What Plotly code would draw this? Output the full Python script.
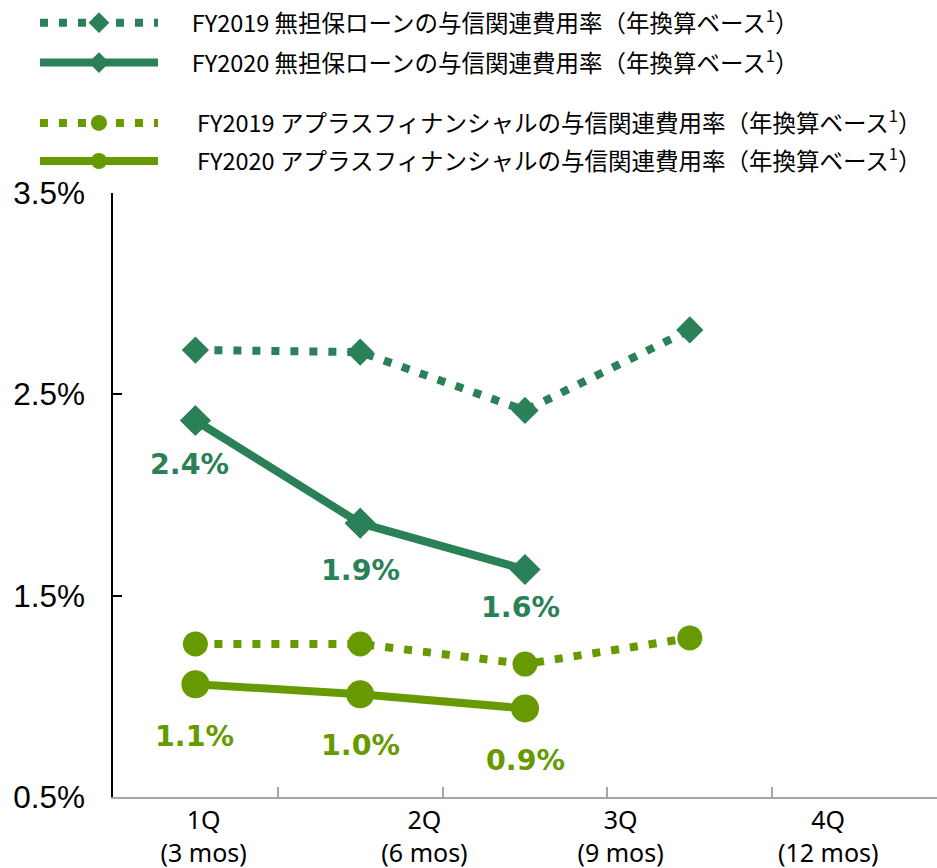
import plotly.graph_objects as go

quarters = [0, 1, 2, 3]
quarter_labels = ["1Q<br>(3 mos)", "2Q<br>(6 mos)", "3Q<br>(9 mos)", "4Q<br>(12 mos)"]
label_pos = [0.05, 1.39, 2.58, 3.84]
band_edges = [0.5, 1.5, 2.5, 3.5]

unsecured_fy2019 = [2.72, 2.71, 2.42, 2.82]
unsecured_fy2020 = [2.37, 1.86, 1.63]
aplus_fy2019 = [1.26, 1.26, 1.16, 1.29]
aplus_fy2020 = [1.06, 1.01, 0.94]
unsecured_fy2020_labels = ["2.4%", "1.9%", "1.6%"]
aplus_fy2020_labels = ["1.1%", "1.0%", "0.9%"]

y_ticks = [0.5, 1.5, 2.5, 3.5]
y_ticktext = ["0.5%", "1.5%", "2.5%", "3.5%"]

series_names = [
    "FY2019 無担保ローンの与信関連費用率（年換算ベース<sup>1</sup>）",
    "FY2020 無担保ローンの与信関連費用率（年換算ベース<sup>1</sup>）",
    "FY2019 アプラスフィナンシャルの与信関連費用率（年換算ベース<sup>1</sup>）",
    "FY2020 アプラスフィナンシャルの与信関連費用率（年換算ベース<sup>1</sup>）",
]

DARK = "#2A8057"
LIGHT = "#669A00"
pad_a = "\u3000\u00a0"
pad_b = "\u3000\u00a0\u00a0"

fig = go.Figure()
fig.add_trace(go.Scatter(
    x=quarters[:len(unsecured_fy2019)], y=unsecured_fy2019, mode="lines+markers",
    name=pad_a + series_names[0], legend="legend",
    line=dict(color=DARK, width=8, dash="8px,11px"),
    marker=dict(symbol="diamond", size=21, color=DARK)))
fig.add_trace(go.Scatter(
    x=quarters[:len(unsecured_fy2020)], y=unsecured_fy2020, mode="lines+markers",
    name=pad_a + series_names[1], legend="legend2",
    line=dict(color=DARK, width=8),
    marker=dict(symbol="diamond", size=24, color=DARK)))
fig.add_trace(go.Scatter(
    x=quarters[:len(aplus_fy2019)], y=aplus_fy2019, mode="lines+markers",
    name=pad_b + series_names[2], legend="legend3",
    line=dict(color=LIGHT, width=8, dash="8px,11px"),
    marker=dict(symbol="circle", size=25, color=LIGHT)))
fig.add_trace(go.Scatter(
    x=quarters[:len(aplus_fy2020)], y=aplus_fy2020, mode="lines+markers",
    name=pad_b + series_names[3], legend="legend4",
    line=dict(color=LIGHT, width=8),
    marker=dict(symbol="circle", size=28, color=LIGHT)))

annotations = []
for xv, yv, t, sh, xs in zip(quarters, unsecured_fy2020, unsecured_fy2020_labels, [-44, -47, -38], [-6, 0, -5]):
    annotations.append(dict(x=xv, y=yv, text=t, showarrow=False, yshift=sh, xshift=xs,
                            font=dict(family="Verdana, DejaVu Sans", size=28.5, color=DARK, weight="bold")))
for xv, yv, t, sh, xs in zip(quarters, aplus_fy2020, aplus_fy2020_labels, [-52, -51, -52], [-1, 0, 0]):
    annotations.append(dict(x=xv, y=yv, text=t, showarrow=False, yshift=sh, xshift=xs,
                            font=dict(family="Verdana, DejaVu Sans", size=28.5, color=LIGHT, weight="bold")))

legend_font = dict(family="Noto Sans CJK JP", size=23.5, color="#000000")
legend_x = -0.0947
legend_ys = [1.318, 1.252, 1.152, 1.089]
legend_common = dict(x=legend_x, xanchor="left", yanchor="top", itemwidth=118,
                     font=legend_font, bgcolor="rgba(0,0,0,0)", borderwidth=0)

fig.update_layout(
    width=937, height=868,
    margin=dict(l=113, r=0, t=193, b=71),
    paper_bgcolor="white", plot_bgcolor="white",
    showlegend=True,
    legend=dict(y=legend_ys[0], **legend_common),
    legend2=dict(y=legend_ys[1], **legend_common),
    legend3=dict(y=legend_ys[2], **legend_common),
    legend4=dict(y=legend_ys[3], **legend_common),
    annotations=annotations,
    xaxis=dict(range=[-0.5, 4.5], tickmode="array", tickvals=label_pos, ticktext=quarter_labels,
               ticks="", showgrid=False, zeroline=False, showline=True,
               linecolor="#A6A6A6", linewidth=2,
               tickfont=dict(family="Noto Sans", size=25, color="#000000"),
               minor=dict(tickmode="array", tickvals=band_edges, ticks="inside",
                          ticklen=10, tickcolor="#A6A6A6", tickwidth=1.5, showgrid=False)),
    yaxis=dict(range=[0.5, 3.5], tickmode="array", tickvals=y_ticks, ticktext=y_ticktext,
               ticks="inside", ticklen=9, tickcolor="#000000", tickwidth=1.5,
               showgrid=False, zeroline=False, showline=True, linecolor="#000000", linewidth=1.5,
               ticklabelstandoff=20,
               tickfont=dict(family="Arial, Liberation Sans", size=31.5, color="#000000")),
)

fig.write_html("out.html", config={"displayModeBar": False},
               post_script="document.body.style.margin='0';document.body.style.overflow='hidden';")
